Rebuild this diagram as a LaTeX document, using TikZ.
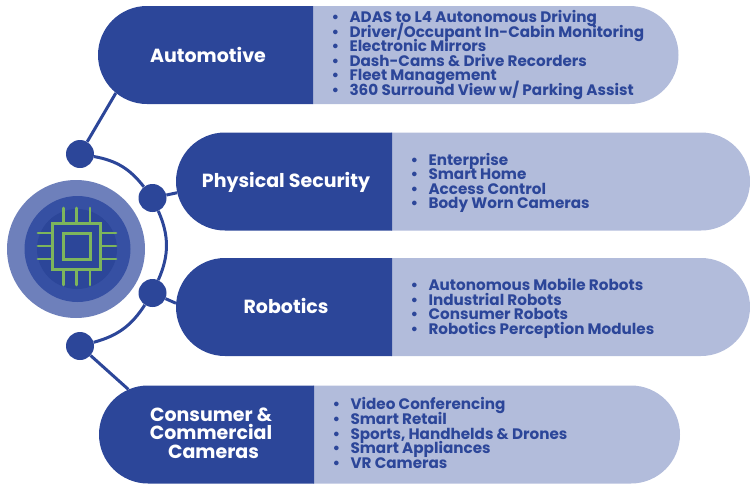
\documentclass[tikz,border=0pt]{standalone}
\usepackage{fontspec}
\setmainfont{Poppins}
\usetikzlibrary{positioning, shapes.misc}
\definecolor{navy}{HTML}{2C4699}
\definecolor{pale}{HTML}{B2BCDB}
\definecolor{ringa}{HTML}{6E80BB}
\definecolor{ringb}{HTML}{3650A3}
\definecolor{chip}{HTML}{7DB55C}
\setlength{\lineskiplimit}{-20pt}
\newcommand{\itm}[1]{\makebox[18pt][l]{\textbullet}#1}
\tikzset{
  darkbar/.style={rounded rectangle,rounded rectangle right arc=none,fill=navy,
    minimum height=98pt,inner sep=0pt},
  palebar/.style={rounded rectangle,rounded rectangle left arc=none,fill=pale,
    minimum height=98pt,inner sep=0pt},
  dot/.style={circle,fill=navy,minimum size=28pt,inner sep=0pt},
  ring/.style={circle,inner sep=0pt},
  title/.style={text=white,font=\fontsize{19}{18.5}\selectfont\bfseries,align=center},
  items/.style={text=navy,anchor=west,align=left,font=\fontsize{15.2}{14.6}\selectfont\bfseries},
  link/.style={draw=navy,line width=3pt},
  pin/.style={draw=chip,line width=2.7pt,line cap=round}
}
\begin{document}
\begin{tikzpicture}[x=1pt,y=-1pt]
  \useasboundingbox (0,0) rectangle (750,485);
  % hub
  \node[ring,fill=ringa,minimum size=138pt] (outer) at (76,249) {};
  \node[ring,fill=ringb,minimum size=106pt] (mid) at (77.5,249) {};
  \node[ring,fill=navy,minimum size=80pt] (inner) at (77,249) {};
  \draw[pin] (52.5,223.5) rectangle (100.5,269.5);
  \draw[pin] (63.5,233.5) rectangle (90.5,259.5);
  \foreach \x in {63.5,76.7,90} {
    \draw[pin] (\x,208) -- (\x,223);
    \draw[pin] (\x,270) -- (\x,285);
  }
  \foreach \y in {233,246,259} {
    \draw[pin] (38,\y) -- (52,\y);
    \draw[pin] (101,\y) -- (116,\y);
  }

  % bars
  \node[palebar,minimum width=366pt] (pale1) at (495.5,55) {};
  \node[palebar,minimum width=359pt] (pale2) at (570.5,181.5) {};
  \node[palebar,minimum width=359pt] (pale3) at (570.5,307) {};
  \node[palebar,minimum width=367pt] (pale4) at (496.5,434.5) {};
  \node[darkbar,minimum width=215pt] (bar1) at (205.5,55) {};
  \node[darkbar,minimum width=216pt] (bar2) at (284,181.5) {};
  \node[darkbar,minimum width=216pt] (bar3) at (284,307) {};
  \node[darkbar,minimum width=215pt] (bar4) at (206.5,434.5) {};

  \node[dot] (n1) at (80,154) {};
  \node[dot] (n2) at (152.5,198) {};
  \node[dot] (n3) at (152.5,293) {};
  \node[dot] (n4) at (80,346) {};

  \foreach \from/\to in {n1/bar1.203,n2/bar2.186,n3/bar3.178,n4/bar4.150}
    \draw[link] (\from) -- (\to);
  \draw[link] (n1) to[bend left=21] (n2);
  \draw[link] (n2) to[bend left=24] (n3);
  \draw[link] (n3) to[bend left=21] (n4);

  % labels
  \node[title] (t1) at (208,55) {Automotive};
  \node[title] (t2) at (286,182) {Physical Security};
  \node[title] (t3) at (286,306) {Robotics};
  \node[title] (t4) at (211,433) {Consumer \&\\Commercial\\\hspace*{5pt}Cameras};

  \node[items] (list1) at (328,55) {\itm{ADAS to L4 Autonomous Driving}\\\itm{Driver/Occupant In-Cabin Monitoring}\\\itm{Electronic Mirrors}\\\itm{Dash-Cams \& Drive Recorders}\\\itm{Fleet Management}\\\itm{360 Surround View w/ Parking Assist}};
  \node[items] (list2) at (407,183) {\itm{Enterprise}\\\itm{Smart Home}\\\itm{Access Control}\\\itm{Body Worn Cameras}};
  \node[items] (list3) at (407,308.5) {\itm{Autonomous Mobile Robots}\\\itm{Industrial Robots}\\\itm{Consumer Robots}\\\itm{Robotics Perception Modules}};
  \node[items] (list4) at (329,433) {\itm{Video Conferencing}\\\itm{Smart Retail}\\\itm{Sports, Handhelds \& Drones}\\\itm{Smart Appliances}\\\itm{VR Cameras}};
\end{tikzpicture}
\end{document}
